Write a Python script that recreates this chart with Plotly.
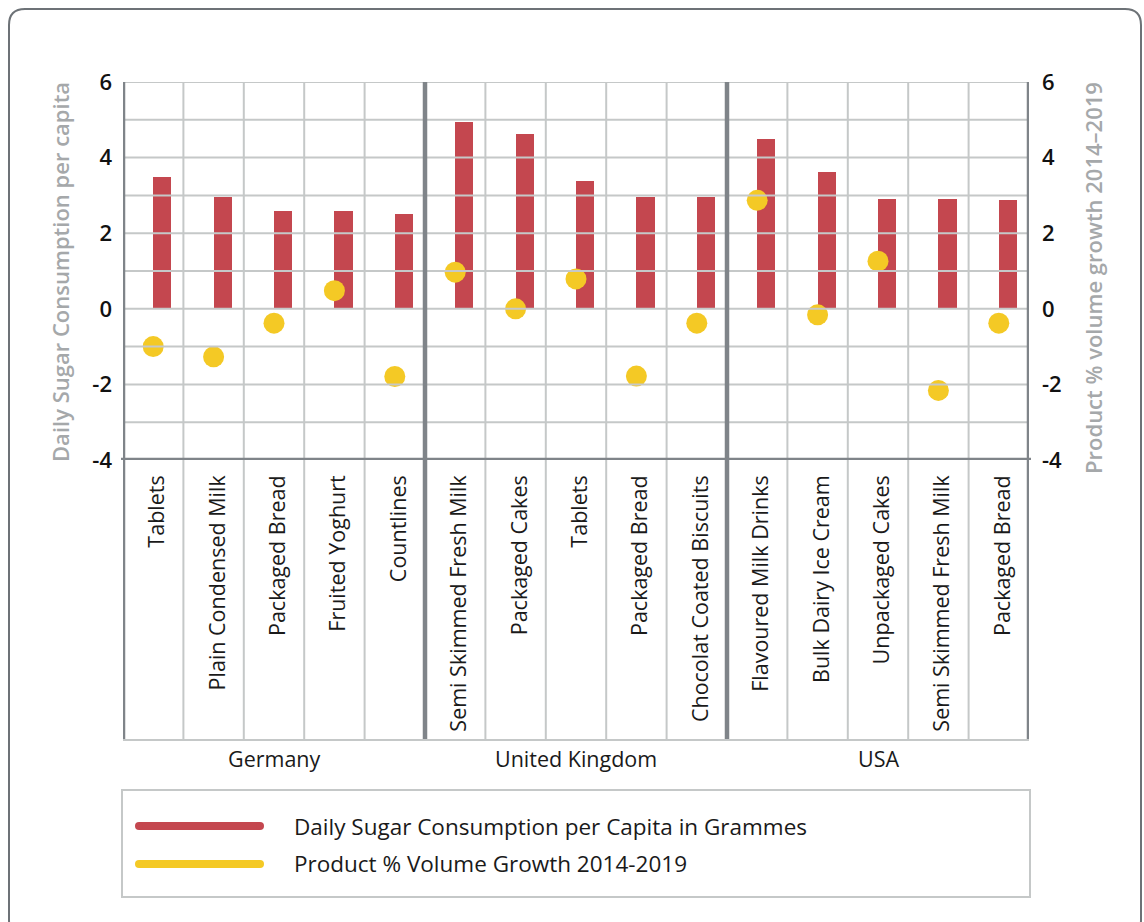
import plotly.graph_objects as go

W, H = 1144, 922

categories = ["Tablets", "Plain Condensed Milk", "Packaged Bread", "Fruited Yoghurt", "Countlines",
              "Semi Skimmed Fresh Milk", "Packaged Cakes", "Tablets", "Packaged Bread", "Chocolat Coated Biscuits",
              "Flavoured Milk Drinks", "Bulk Dairy Ice Cream", "Unpackaged Cakes", "Semi Skimmed Fresh Milk", "Packaged Bread"]
groups = ["Germany", "United Kingdom", "USA"]
group_size = 5
sugar = [3.5, 2.95, 2.6, 2.6, 2.5,
         4.95, 4.62, 3.38, 2.95, 2.95,
         4.49, 3.62, 2.91, 2.91, 2.88]
growth = [-1.0, -1.27, -0.38, 0.48, -1.79,
          0.97, 0.0, 0.79, -1.78, -0.38,
          2.87, -0.16, 1.26, -2.16, -0.38]
yticks = [-4, -2, 0, 2, 4, 6]
ytick_labels = ["-4", "-2", "0", "2", "4", "6"]
series_names = ["Daily Sugar Consumption per Capita in Grammes", "Product % Volume Growth 2014-2019"]
left_title = "Daily Sugar Consumption per capita"
right_title = "Product % volume growth 2014–2019"

RED = "#C4474F"
YEL = "#F4C925"
GRID = "#C5C8C8"
DARK = "#7F8489"
FRAME = "#6D7277"
TITLEC = "#A5A8AA"
FONT = "Open Sans"

def X(px):
    return px / W

def Y(py):
    return 1 - py / H

PL, PR, PT, PB = 123, 1029, 82, 460
LBL_BOTTOM = 740

n = len(categories)
xc = [i + 0.5 for i in range(n)]

fig = go.Figure()
fig.add_trace(go.Bar(x=xc, y=sugar, offset=0, width=0.3, marker=dict(color=RED, line=dict(width=0)),
                     name=series_names[0], showlegend=False))
fig.add_trace(go.Scatter(x=xc, y=growth, mode="markers", yaxis="y2",
                         marker=dict(color=YEL, size=21, line=dict(width=0)),
                         name=series_names[1], showlegend=False))

shapes = []
for v in range(-3, 7):
    shapes.append(dict(type="line", xref="paper", yref="y", x0=X(PL), x1=X(PR), y0=v, y1=v,
                       line=dict(color=GRID, width=2), layer="above"))
for i in range(n + 1):
    thick = (i % group_size == 0)
    shapes.append(dict(type="line", xref="x", yref="paper", x0=i, x1=i, y0=Y(LBL_BOTTOM), y1=Y(PT),
                       line=dict(color=DARK if thick else GRID, width=4.5 if thick else 2), layer="above"))
shapes.append(dict(type="line", xref="paper", yref="paper", x0=X(PL), x1=X(PR), y0=Y(LBL_BOTTOM), y1=Y(LBL_BOTTOM),
                   line=dict(color=GRID, width=2), layer="above"))
shapes.append(dict(type="line", xref="paper", yref="y", x0=X(PL - 2), x1=X(PR + 2), y0=yticks[0], y1=yticks[0],
                   line=dict(color=DARK, width=4.5), layer="above"))

shapes.append(dict(type="rect", xref="paper", yref="paper", x0=X(122), x1=X(1030), y0=Y(897), y1=Y(790),
                   line=dict(color=GRID, width=2), fillcolor="rgba(0,0,0,0)", layer="above"))
for col, py in [(RED, 826), (YEL, 864)]:
    shapes.append(dict(type="line", xref="paper", yref="paper", x0=X(139), x1=X(260), y0=Y(py), y1=Y(py),
                       line=dict(color=col, width=8), layer="above"))
    for cx in (139, 260):
        shapes.append(dict(type="circle", xref="paper", yref="paper", x0=X(cx - 4), x1=X(cx + 4),
                           y0=Y(py + 4), y1=Y(py - 4), line=dict(width=0), fillcolor=col, layer="above"))

fx0, fy0, fx1, fy1, r = 9, 9, 1141, 936, 16
path = (f"M {X(fx0 + r)},{Y(fy0)} L {X(fx1 - r)},{Y(fy0)} Q {X(fx1)},{Y(fy0)} {X(fx1)},{Y(fy0 + r)} "
        f"L {X(fx1)},{Y(fy1 - r)} Q {X(fx1)},{Y(fy1)} {X(fx1 - r)},{Y(fy1)} "
        f"L {X(fx0 + r)},{Y(fy1)} Q {X(fx0)},{Y(fy1)} {X(fx0)},{Y(fy1 - r)} "
        f"L {X(fx0)},{Y(fy0 + r)} Q {X(fx0)},{Y(fy0)} {X(fx0 + r)},{Y(fy0)} Z")
shapes.append(dict(type="path", xref="paper", yref="paper", path=path, line=dict(color=FRAME, width=2),
                   fillcolor="rgba(0,0,0,0)", layer="above"))

annotations = []
for g, name in enumerate(groups):
    annotations.append(dict(text=name, xref="x", yref="paper", x=g * group_size + group_size / 2, y=Y(758),
                            xanchor="center", yanchor="middle", showarrow=False,
                            font=dict(family=FONT, size=21.5, color="#1a1a1a")))
for name, py in zip(series_names, [826, 863]):
    annotations.append(dict(text=name, xref="paper", yref="paper", x=X(292), y=Y(py), xanchor="left",
                            yanchor="middle", showarrow=False, font=dict(family=FONT, size=22.5, color="#1a1a1a")))
annotations.append(dict(text=left_title, xref="paper", yref="paper", x=X(60), y=Y(272), textangle=-90,
                        xanchor="center", yanchor="middle", showarrow=False,
                        font=dict(family=FONT, size=22, color=TITLEC, weight=600)))
annotations.append(dict(text=right_title, xref="paper", yref="paper", x=X(1093), y=Y(278), textangle=-90,
                        xanchor="center", yanchor="middle", showarrow=False,
                        font=dict(family=FONT, size=22, color=TITLEC, weight=600)))

tickfont = dict(family=FONT, size=22, color="#111111", weight=600)
fig.update_layout(
    width=W, height=H, margin=dict(l=0, r=0, t=0, b=0, autoexpand=False),
    paper_bgcolor="white", plot_bgcolor="white",
    showlegend=False, shapes=shapes, annotations=annotations,
    xaxis=dict(domain=[X(PL), X(PR)], range=[0, n], tickvals=xc, ticktext=categories, tickangle=-90,
               showgrid=False, zeroline=False, showline=False, ticks="", automargin=False,
               tickfont=dict(family=FONT, size=21.5, color="#1a1a1a"), ticklabelstandoff=10, ticklabelshift=4),
    yaxis=dict(domain=[Y(PB), Y(PT)], range=[yticks[0], yticks[-1]], tickvals=yticks, ticktext=ytick_labels,
               showgrid=False, zeroline=False, showline=False, ticks="", tickfont=tickfont,
               ticklabelstandoff=10, automargin=False),
    yaxis2=dict(overlaying="y", side="right", range=[yticks[0], yticks[-1]], tickvals=yticks, ticktext=ytick_labels,
                showgrid=False, zeroline=False, showline=False, ticks="", tickfont=tickfont,
                ticklabelstandoff=12, automargin=False),
    bargap=0,
)

fig.write_html("out.html", config={"displayModeBar": False},
               post_script="document.body.style.margin='0';document.body.style.overflow='hidden';")
